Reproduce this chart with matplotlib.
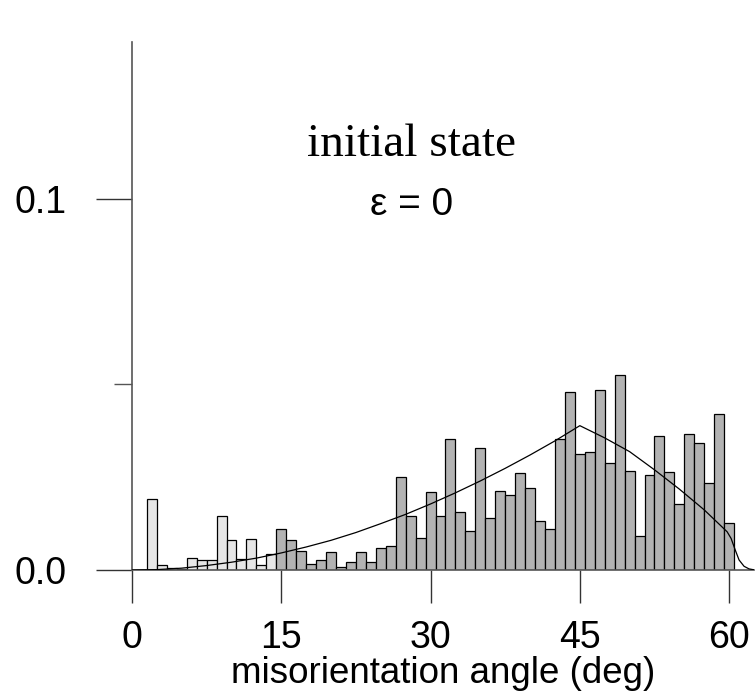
import numpy as np
import matplotlib.pyplot as plt
from matplotlib.ticker import FixedLocator

# misorientation bins (deg) and measured fractions
angles = np.arange(1, 61)
freq = [
    0.0000, 0.0191, 0.0013, 0.0006, 0.0004, 0.0031, 0.0026, 0.0026, 0.0145, 0.0080,
    0.0030, 0.0083, 0.0013, 0.0044, 0.0111, 0.0080, 0.0052, 0.0016, 0.0026, 0.0048,
    0.0007, 0.0021, 0.0049, 0.0022, 0.0059, 0.0066, 0.0250, 0.0145, 0.0085, 0.0209,
    0.0145, 0.0354, 0.0155, 0.0105, 0.0330, 0.0141, 0.0213, 0.0201, 0.0262, 0.0222,
    0.0133, 0.0111, 0.0352, 0.0479, 0.0312, 0.0317, 0.0485, 0.0288, 0.0526, 0.0266,
    0.0091, 0.0255, 0.0360, 0.0263, 0.0179, 0.0367, 0.0342, 0.0234, 0.0420, 0.0126,
]
low_angle_limit = 15

# random (Mackenzie) reference curve
curve_x = [0, 2.5, 5, 7.5, 10, 12.5, 15, 17.5, 20, 22.5, 25, 27.5, 30, 32.5, 35,
           37.5, 40, 42.5, 45, 47.5, 50, 52.5, 55, 57.5, 59.8, 60.2, 60.6, 61.0,
           61.5, 62.0, 62.6]
curve_y = [0, 0.0001, 0.0005, 0.0012, 0.0021, 0.0032, 0.0046, 0.0062, 0.0080,
           0.0101, 0.0125, 0.0150, 0.0178, 0.0208, 0.0240, 0.0274, 0.0310, 0.0348,
           0.0389, 0.0356, 0.0319, 0.0270, 0.0218, 0.0162, 0.0103, 0.0085, 0.0055,
           0.0027, 0.0010, 0.0003, 0.0]

plt.rcParams['font.family'] = ['Liberation Sans', 'DejaVu Sans']

fig = plt.figure(figsize=(7.56, 6.98), dpi=100)
ax = fig.add_axes([132 / 756, 128 / 698, 622 / 756, 528 / 698])

colors = ['#e6e6e6' if a < low_angle_limit else '#b3b3b3' for a in angles]
ax.bar(angles, freq, width=1.0, color=colors, edgecolor='black', linewidth=0.9, zorder=2)
ax.plot(curve_x, curve_y, color='black', linewidth=0.9, zorder=3)

ax.set_xlim(0, 62.5)
ax.set_ylim(0, 0.1423)

for s in ['top', 'right']:
    ax.spines[s].set_visible(False)
for s in ['left', 'bottom']:
    ax.spines[s].set_color('#555555')
    ax.spines[s].set_linewidth(1.2)

ax.set_xticks([0, 15, 30, 45, 60])
ax.set_xticklabels(['0', '15', '30', '45', '60'])
ax.set_yticks([0, 0.1])
ax.set_yticklabels(['0.0', '0.1'])
ax.yaxis.set_minor_locator(FixedLocator([0.05]))
ax.tick_params(axis='x', direction='out', length=24, width=1, color='#333333',
               labelsize=27, pad=12)
ax.tick_params(axis='y', which='major', direction='out', length=26, width=1,
               color='#333333', labelsize=27, pad=21)
ax.tick_params(axis='y', which='minor', direction='out', length=13, width=1,
               color='#555555')

ax.set_xlabel('misorientation angle (deg)', fontsize=26.5, labelpad=0)

ax.text(0.449, 0.785, 'initial state', transform=ax.transAxes, ha='center',
        va='baseline', fontsize=34, family=['Liberation Serif', 'DejaVu Serif'])
ax.text(0.449, 0.672, 'ε = 0', transform=ax.transAxes, ha='center',
        va='baseline', fontsize=28)

plt.savefig('out.png', dpi=100)
plt.close()
